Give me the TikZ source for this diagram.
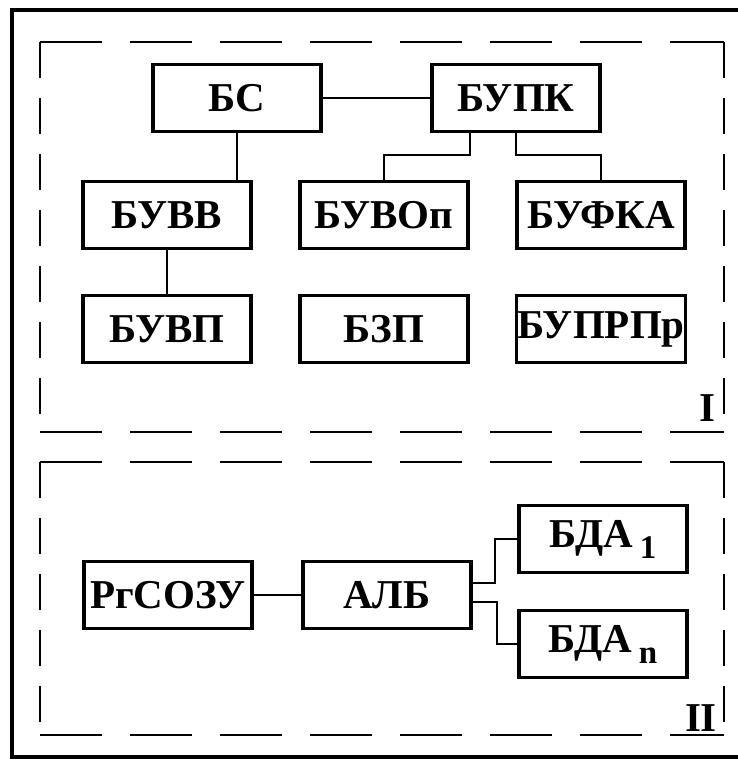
\documentclass[tikz,border=0pt]{standalone}
\usepackage{fontspec}
\setmainfont{Liberation Serif}
\usetikzlibrary{positioning}
\newcommand{\lowidx}[1]{\,\raisebox{-11pt}{\fontsize{33}{36}\selectfont #1}}

\begin{document}
\begin{tikzpicture}[x=1pt,y=-1pt,node distance=217pt,
      block/.style={draw,line width=3.5pt,minimum width=168pt,
      minimum height=67pt,inner sep=1pt,
      font=\fontsize{41}{48}\selectfont\bfseries},
      area label/.style={inner sep=0pt,
      font=\fontsize{41}{48}\selectfont\bfseries},
      link/.style={line width=1.6pt},
      hdash/.style={line width=2pt,dash pattern=on 62pt off 28pt},
      vdash/.style={line width=2pt,dash pattern=on 36pt off 20pt}]

      \useasboundingbox (0,0) rectangle (738,761);

      %% OUTER FRAME AND THE TWO DASHED AREAS
      \draw[line width=4pt] (738,10) -- (12,10) -- (12,757) -- (738,757);
      \draw[hdash] (40,42) -- (724,42) (40,432) -- (724,432)
                   (40,462) -- (724,462) (40,735) -- (724,735);
      \draw[vdash] (40,42) -- (40,432) (724,42) -- (724,432)
                   (40,462) -- (40,735) (724,462) -- (724,735);

      %% AREA I
      \node[block] (bs) at (237,98) {БС};
      \node[block] (bupk) [right of=bs, node distance=279pt] {БУПК};
      \node[block] (buvv) at (167,215) {БУВВ};
      \node[block] (buvop) [right of=buvv] {БУВОп};
      \node[block] (bufka) [right of=buvop] {БУФКА};
      \node[block] (buvp) [below of=buvv, node distance=114pt] {БУВП};
      \node[block] (bzp) [right of=buvp] {БЗП};
      \node[block] (buprpr) [right of=bzp] {БУПРПр};
      \node[area label] (lbl1) at (707,408) {I};

      %% AREA II
      \node[block] (rgsozu) at (168,595) {РгСОЗУ};
      \node[block] (alb) [right of=rgsozu, node distance=219pt] {АЛБ};
      \node[block] (bda1) at (603,539) {БДА\lowidx{1}};
      \node[block] (bdan) [below of=bda1, node distance=105pt] {БДА\lowidx{n}};
      \node[area label] (lbl2) at (701,718) {II};

      %% CONNECTIONS
      \draw[link] (bs) -- (bupk);
      \draw[link] (bs) -- (bs |- buvv.north);
      \draw[link] (buvv) -- (buvp);
      \draw[link] ([xshift=40pt]bupk.south west) -- ++(0,22) -| (buvop.north);
      \draw[link] (bupk.south) -- ++(0,22) -| (bufka.north);
      \draw[link] (rgsozu) -- (alb);
      \draw[link] ([yshift=12pt]alb.east) -- ++(22,0) |- (bda1.west);
      \draw[link] ([yshift=-7pt]alb.east) -- ++(24,0) |- (bdan.west);
\end{tikzpicture}
\end{document}
